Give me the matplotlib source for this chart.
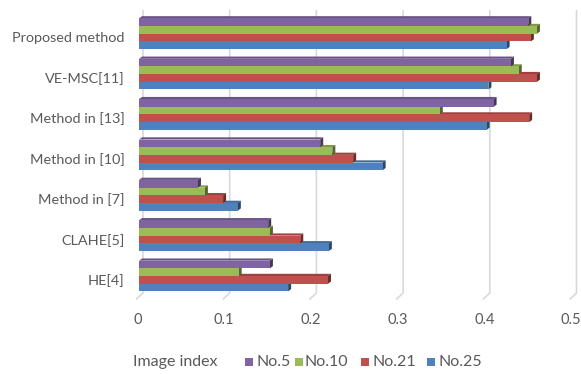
import matplotlib
matplotlib.use("Agg")
import matplotlib.pyplot as plt
from matplotlib.patches import Polygon, Rectangle
from matplotlib.colors import to_rgb
from matplotlib.transforms import ScaledTranslation
import numpy as np

plt.rcParams['font.family'] = ['Lato', 'DejaVu Sans']

# Methods, listed bottom to top on the category axis
methods = ["HE[4]", "CLAHE[5]", "Method in [7]", "Method in [10]",
           "Method in [13]", "VE-MSC[11]", "Proposed method"]

series_names = ["No.5", "No.10", "No.21", "No.25"]
series_colors = ["#8064A2", "#9BBB59", "#C0504D", "#4F81BD"]

no5 = [0.151, 0.149, 0.068, 0.209, 0.409, 0.429, 0.449]
no10 = [0.115, 0.151, 0.076, 0.223, 0.347, 0.438, 0.459]
no21 = [0.218, 0.186, 0.097, 0.247, 0.450, 0.459, 0.452]
no25 = [0.172, 0.219, 0.114, 0.281, 0.401, 0.403, 0.424]
series_values = [no5, no10, no21, no25]

x_ticks = [0, 0.1, 0.2, 0.3, 0.4, 0.5]
x_tick_labels = ["0", "0.1", "0.2", "0.3", "0.4", "0.5"]
axis_title = "Image index"

W, H = 581, 374
fig = plt.figure(figsize=(W / 100, H / 100), dpi=100)

# axes box in pixels
ax_l, ax_r, ax_t, ax_b = 139, 572.5, 10, 300
ax = fig.add_axes([ax_l / W, 1 - ax_b / H, (ax_r - ax_l) / W, (ax_b - ax_t) / H])
ax.set_xlim(0, 0.5)
y_top = (276 - ax_t) / 40.38
y_bot = (276 - ax_b) / 40.38
ax.set_ylim(y_bot, y_top)
for s in ax.spines.values():
    s.set_visible(False)

px_x = 0.5 / (ax_r - ax_l)   # data units per pixel, x
px_y = 1 / 40.38             # data units per pixel, y

text_col = "#595959"
grid_col = "#D9D9D9"

# back-wall gridlines with the slanted floor edge
y_floor_back = (276 - 293) / 40.38
y_floor_front = (276 - 299.5) / 40.38
for t in x_ticks:
    xb = t + 4.0 * px_x
    xf = t - 3.0 * px_x
    ax.plot([xb, xb, xf], [y_top, y_floor_back, y_floor_front],
            color=grid_col, lw=1.2, zorder=0, solid_capstyle='butt',
            clip_on=False)

# 3D-looking bars: front face, top face and right side face
bar_h = 0.19
offsets = [1.5 * bar_h, 0.5 * bar_h, -0.5 * bar_h, -1.5 * bar_h]
dx = 3.0 * px_x
dy = 2.2 * px_y


def shade(c, f):
    r, g, b = to_rgb(c)
    return (r * f, g * f, b * f)


z = 1
for k in range(len(series_names) - 1, -1, -1):
    col = series_colors[k]
    vals = series_values[k]
    for i, v in enumerate(vals):
        y0 = i + offsets[k] - bar_h / 2
        y1 = y0 + bar_h
        top = Polygon([(0, y1), (v, y1), (v + dx, y1 + dy), (dx, y1 + dy)],
                      closed=True, facecolor=shade(col, 0.82),
                      edgecolor='none', zorder=z)
        side = Polygon([(v, y0), (v, y1), (v + dx, y1 + dy), (v + dx, y0 + dy)],
                       closed=True, facecolor=shade(col, 0.55),
                       edgecolor='none', zorder=z)
        ax.add_patch(top)
        ax.add_patch(side)
    ax.barh(np.arange(len(methods)) + offsets[k], vals, height=bar_h,
            color=col, edgecolor='none', zorder=z + 0.5)
    z += 1

ax.set_xticks(x_ticks)
ax.set_xticklabels(x_tick_labels)
ax.set_yticks(np.arange(len(methods)))
ax.set_yticklabels(methods)
ax.tick_params(axis='x', length=0, pad=9, labelsize=10.5, labelcolor=text_col)
ax.tick_params(axis='y', length=0, pad=10.5, labelsize=10.4, labelcolor=text_col)

# category labels sit a little below the bar groups
shift_y = ScaledTranslation(0, -3.5 / 100, fig.dpi_scale_trans)
for lab in ax.get_yticklabels():
    lab.set_transform(lab.get_transform() + shift_y)
shift_x = ScaledTranslation(-1.5 / 100, 0, fig.dpi_scale_trans)
for lab in ax.get_xticklabels():
    lab.set_transform(lab.get_transform() + shift_x)

# legend row along the bottom
ly = 1 - 362 / H
fig.text(133 / W, ly, axis_title, fontsize=11.5, color=text_col,
         ha='left', va='center')
sq_x = [244.5, 295, 361, 427]
tx_x = [257, 304.5, 373, 438]
for name, col, sx, tx in zip(series_names, series_colors, sq_x, tx_x):
    fig.patches.append(Rectangle((sx / W, (H - 366) / H), 8 / W, 8 / H,
                                 transform=fig.transFigure, facecolor=col,
                                 edgecolor='none'))
    fig.text(tx / W, ly, name, fontsize=11.5, color=text_col,
             ha='left', va='center')

fig.savefig("out.png", dpi=100)
